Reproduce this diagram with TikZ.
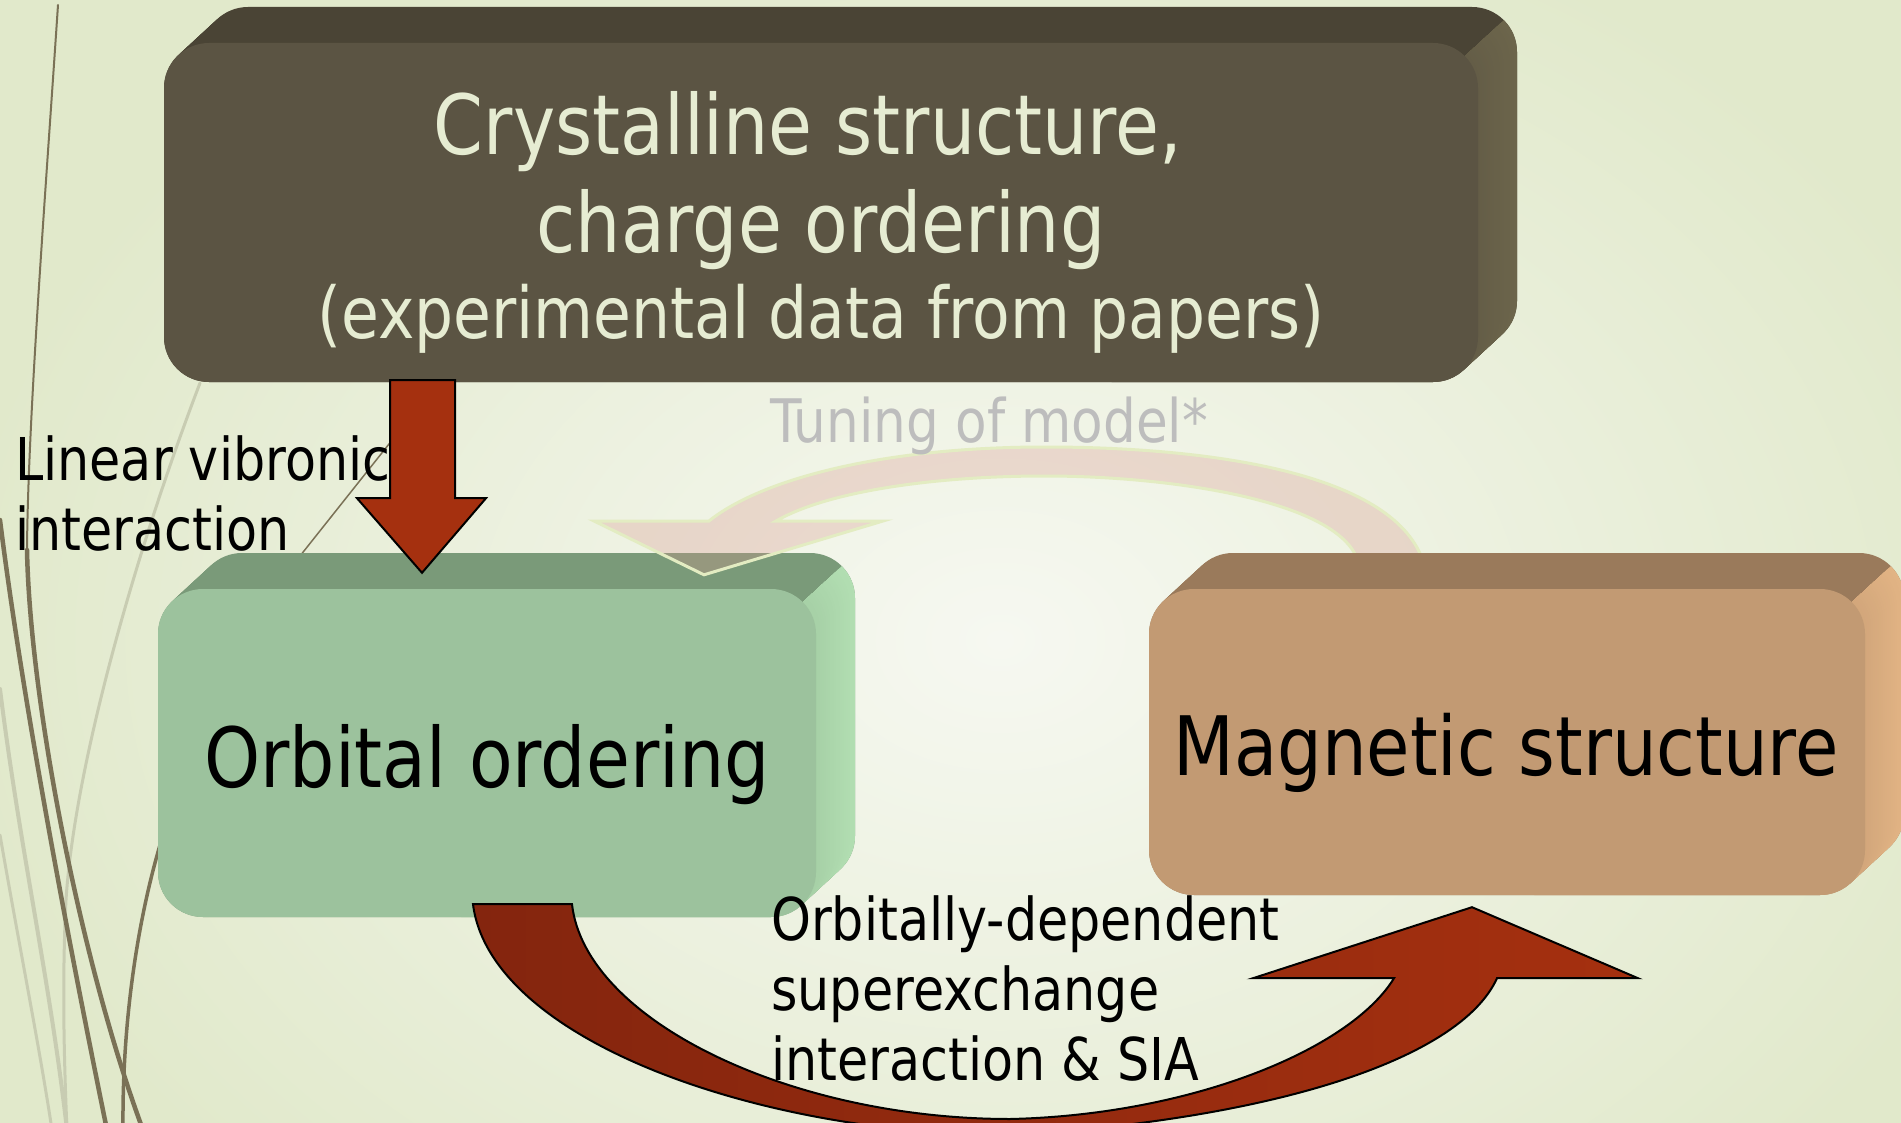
\documentclass[tikz,border=0pt]{standalone}
\usepackage{fontspec}
\setmainfont{DejaVu Sans}[FakeStretch=0.86]
\usetikzlibrary{calc}

\definecolor{bgbase}{HTML}{E1E9CB}
\definecolor{bglight}{HTML}{F6F8F1}
\definecolor{stemdark}{HTML}{7A7156}
\definecolor{stemlight}{HTML}{C8CCB2}
\definecolor{darkfront}{HTML}{5B5443}
\definecolor{darktop}{HTML}{4A4435}
\definecolor{darkside}{HTML}{645D47}
\definecolor{darksidefar}{HTML}{6C654B}
\definecolor{creamtext}{HTML}{E6ECD2}
\definecolor{greenfront}{HTML}{9CC29D}
\definecolor{greentop}{HTML}{7A9A79}
\definecolor{greenside}{HTML}{A6D0A6}
\definecolor{greensidefar}{HTML}{B2DEB2}
\definecolor{brownfront}{HTML}{C29A73}
\definecolor{browntop}{HTML}{9A7A5B}
\definecolor{brownside}{HTML}{D2A67B}
\definecolor{brownsidefar}{HTML}{E2B484}
\definecolor{arrowred}{HTML}{A5300F}
\definecolor{arrowdeep}{HTML}{84250E}
\definecolor{tunefill}{HTML}{D7968C}
\definecolor{tuneedge}{HTML}{E3ECC2}
\definecolor{tunetext}{HTML}{BDBDBD}

% extruded slab behind a front face: x1 y1 x2 y2, top colour, side colour near, side colour far
\newcommand\slab[7]{%
  \foreach \k in {20,19,...,0}{
    \fill[#5, rounded corners=45pt] (#1+1.95*\k, #2-1.8*\k) rectangle (#3+1.95*\k, #4-1.8*\k);
  }
  \begin{scope}
    \clip (#3-13-390, #2+13+360) -- (#3-13+390, #2+13-360) -- ++(1000,1000) -- ++(-780,720) -- cycle;
    \foreach \k in {20,19,...,0}{
      \pgfmathsetmacro\mixp{5*\k}
      \fill[#7!\mixp!#6, rounded corners=45pt] (#1+1.95*\k, #2-1.8*\k) rectangle (#3+1.95*\k, #4-1.8*\k);
    }
  \end{scope}}

\tikzset{
  slabface/.style={rectangle, rounded corners=45pt, inner sep=0pt, draw=none},
  lbl/.style={inner sep=0pt, anchor=base},
  lblw/.style={inner sep=0pt, anchor=base west},
  stemthick/.style={stemdark, line width=4.5pt, line cap=round},
  stemthin/.style={stemdark, line width=2pt, line cap=round},
  stempale/.style={stemlight, line width=4pt, line cap=round},
  redarrow/.style={draw=black, line width=2pt, line join=miter},
  tunearrow/.style={fill=tunefill, fill opacity=0.3, draw=tuneedge, line width=3pt, line join=miter}
}

\begin{document}
\begin{tikzpicture}[x=1pt, y=-1pt]
\useasboundingbox (0,0) rectangle (1901,1123);
\clip (0,0) rectangle (1901,1123);

% background
\fill[bgbase] (0,0) rectangle (1901,1123);
\shade[inner color=bglight, outer color=bgbase] (1000,640) ellipse (1050 and 780);

% wisps on the left edge
\draw[stempale] (0,689) .. controls (20,850) and (50,980) .. (67,1130);
\draw[stempale, line width=3pt] (0,835) .. controls (20,950) and (40,1050) .. (52,1130);
\draw[stempale, line width=3pt] (200,383) .. controls (140,540) and (75,760) .. (66,900) .. controls (62,980) and (64,1060) .. (67,1130);
\draw[stemthin] (58,5) .. controls (45,200) and (28,420) .. (27,550);
\draw[stemthick] (27,550) .. controls (30,700) and (80,960) .. (143,1130);
\draw[stemthick] (0,520) .. controls (20,680) and (60,900) .. (107,1130);
\draw[stemthick, line width=3.5pt] (160,845) .. controls (138,920) and (122,1020) .. (123,1130);
\draw[stemthin, line width=1.5pt] (420,405) -- (300,556);

% crystalline structure slab
\slab{164}{43}{1478}{382}{darktop}{darkside}{darksidefar}
\node[slabface, fill=darkfront, minimum width=1314pt, minimum height=339pt] (cryst) at (821,212.5) {};

% orbital ordering slab
\slab{158}{589}{816}{917}{greentop}{greenside}{greensidefar}
\node[slabface, fill=greenfront, minimum width=658pt, minimum height=328pt] (orb) at (487,753) {};

% feedback arrow from the magnetic structure back to the orbital ordering
\coordinate (tuneR) at ($(orb.north)+(934,-33)$);
\coordinate (tuneTip) at ($(orb.north)+(217,-14)$);
\path[tunearrow] (tuneR) .. controls (1385,470) and (1200,447) .. (1045,447)
  .. controls (880,447) and (760,480) .. (709,521)
  -- (594,521) -- (tuneTip) -- (883,521) -- (776,521)
  .. controls (830,490) and (940,476) .. (1045,476)
  .. controls (1170,476) and (1330,500) .. (1356,556) -- cycle;

% magnetic structure slab
\slab{1149}{589}{1865}{895}{browntop}{brownside}{brownsidefar}
\node[slabface, fill=brownfront, minimum width=716pt, minimum height=306pt] (mag) at (1507,742) {};

% label of the straight arrow, partly covered by it
\node[lblw, font=\fontsize{59}{70}\selectfont] (lviA) at (15,480) {Linear vibronic};
\node[lblw, font=\fontsize{59}{70}\selectfont] (lviB) at (15,550) {interaction};

% straight arrow: crystalline structure -> orbital ordering
\coordinate (dnA) at ($(cryst.south)+(-431,-2)$);
\coordinate (dnTip) at ($(orb.north)+(-65,-16)$);
\filldraw[redarrow, fill=arrowred] (dnA) -- ++(65,0) -- ++(0,118) -- ++(31,0) -- (dnTip)
  -- ($(dnA)+(-33,118)$) -- ++(33,0) -- cycle;

% curved arrow: orbital ordering -> magnetic structure
\coordinate (uOL) at ($(orb.south)+(-14,-13)$);
\coordinate (uIL) at ($(orb.south)+(85,-13)$);
\coordinate (uIR) at ($(mag.south)+(-113,83)$);
\coordinate (uBL) at ($(mag.south)+(-254,83)$);
\coordinate (uTip) at ($(mag.south)+(-35,12)$);
\coordinate (uBR) at ($(mag.south)+(131,83)$);
\coordinate (uOR) at ($(mag.south)+(-10,83)$);
\shadedraw[redarrow, left color=arrowdeep, right color=arrowred]
  (uOL) -- (uIL) .. controls (585,1020) and (790,1119) .. (1010,1119)
  .. controls (1190,1115) and (1350,1050) .. (uIR)
  -- (uBL) -- (uTip) -- (uBR) -- (uOR)
  .. controls (1460,1060) and (1270,1120) .. (1010,1135)
  .. controls (760,1135) and (490,1040) .. (uOL) -- cycle;

% box texts
\node[lbl, text=creamtext, font=\fontsize{83}{98}\selectfont] (crystA) at (808,155) {Crystalline structure,};
\node[lbl, text=creamtext, font=\fontsize{83}{98}\selectfont] (crystB) at (821,253) {charge ordering};
\node[lbl, text=creamtext, font=\fontsize{71.5}{82}\selectfont] (crystC) at (821,338) {(experimental data from papers)};
\node[lbl, font=\fontsize{83}{98}\selectfont] (orbT) at (487,787) {Orbital ordering};
\node[lbl, font=\fontsize{82}{96}\selectfont] (magT) at (1506,775) {Magnetic structure};

% connector labels
\node[lblw, text=tunetext, font=\fontsize{60}{72}\selectfont] (tuneT) at (770,442) {Tuning of model*};
\node[lblw, font=\fontsize{59}{70}\selectfont] (oseA) at (771,940) {Orbitally-dependent};
\node[lblw, font=\fontsize{59}{70}\selectfont] (oseB) at (771,1010) {superexchange};
\node[lblw, font=\fontsize{59}{70}\selectfont] (oseC) at (771,1080) {interaction \& SIA};
\end{tikzpicture}
\end{document}
